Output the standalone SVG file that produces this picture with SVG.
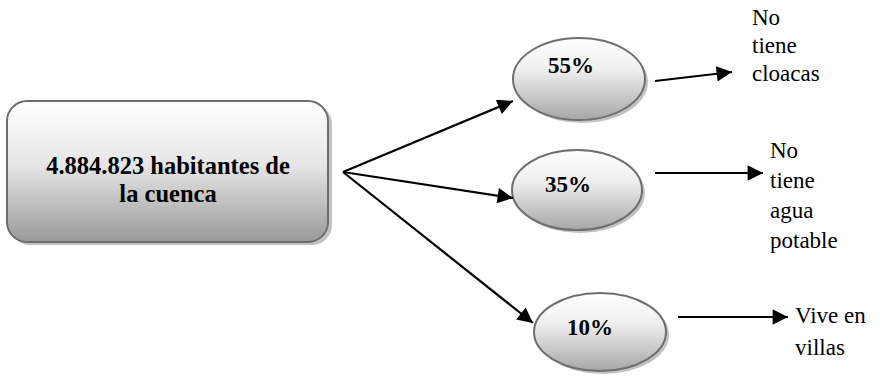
<svg xmlns="http://www.w3.org/2000/svg" width="880" height="378" viewBox="0 0 880 378">
<defs>
<linearGradient id="gBox" x1="0" y1="0" x2="0" y2="1">
<stop offset="0" stop-color="#ffffff"/>
<stop offset="0.45" stop-color="#e6e6e6"/>
<stop offset="1" stop-color="#999999"/>
</linearGradient>
<linearGradient id="gEll" x1="0" y1="0" x2="0" y2="1">
<stop offset="0" stop-color="#ffffff"/>
<stop offset="0.4" stop-color="#eeeeee"/>
<stop offset="1" stop-color="#a6a6a6"/>
</linearGradient>
<marker id="arr" viewBox="0 0 10 10" refX="10" refY="5" markerWidth="8" markerHeight="7" markerUnits="strokeWidth" orient="auto">
<path d="M0,0 L10,5 L0,10 z" fill="#000"/>
</marker>
</defs>
<style>
.shadow{fill:#9a9a9a;opacity:0.6}
.box{fill:url(#gBox);stroke:#6e6e6e;stroke-width:2}
.ell{fill:url(#gEll);stroke:#6e6e6e;stroke-width:2}
text{font-family:'Liberation Serif','Times New Roman',serif;fill:#000}
.b{font-weight:bold}
.c{stroke:#000;stroke-width:2.2;fill:none;marker-end:url(#arr)}
</style>
<g id="main">
<rect class="shadow" x="10" y="104" width="322" height="141" rx="20"/>
<rect class="box" x="7" y="101" width="321" height="141" rx="20"/>
<text class="b" font-size="24.5" x="168" y="174" text-anchor="middle">4.884.823 habitantes de</text>
<text class="b" font-size="24.5" x="168" y="202" text-anchor="middle">la cuenca</text>
</g>
<g id="p55">
<ellipse class="shadow" cx="582" cy="82" rx="66" ry="41"/>
<ellipse class="ell" cx="579" cy="79" rx="66" ry="41"/>
<text class="b" font-size="23" x="571" y="73" text-anchor="middle">55%</text>
</g>
<g id="p35">
<ellipse class="shadow" cx="580" cy="193" rx="65" ry="40"/>
<ellipse class="ell" cx="577" cy="190" rx="65" ry="40"/>
<text class="b" font-size="23" x="568" y="192" text-anchor="middle">35%</text>
</g>
<g id="p10">
<ellipse class="shadow" cx="603" cy="335" rx="66" ry="39"/>
<ellipse class="ell" cx="600" cy="332" rx="66" ry="39"/>
<text class="b" font-size="23" x="590" y="335" text-anchor="middle">10%</text>
</g>
<g id="l1" font-size="23">
<text x="752" y="25">No</text>
<text x="752" y="53">tiene</text>
<text x="752" y="81">cloacas</text>
</g>
<g id="l2" font-size="23">
<text x="770" y="158">No</text>
<text x="770" y="188">tiene</text>
<text x="770" y="218">agua</text>
<text x="770" y="248">potable</text>
</g>
<g id="l3" font-size="23">
<text x="795" y="323">Vive en</text>
<text x="795" y="355">villas</text>
</g>
<g id="connectors">
<line class="c" x1="343" y1="172" x2="513" y2="101"/>
<line class="c" x1="343" y1="172" x2="513" y2="198"/>
<line class="c" x1="343" y1="172" x2="533" y2="323"/>
<line class="c" x1="655" y1="81" x2="732" y2="72"/>
<line class="c" x1="655" y1="173" x2="763" y2="173"/>
<line class="c" x1="678" y1="317" x2="788" y2="317"/>
</g>
</svg>
